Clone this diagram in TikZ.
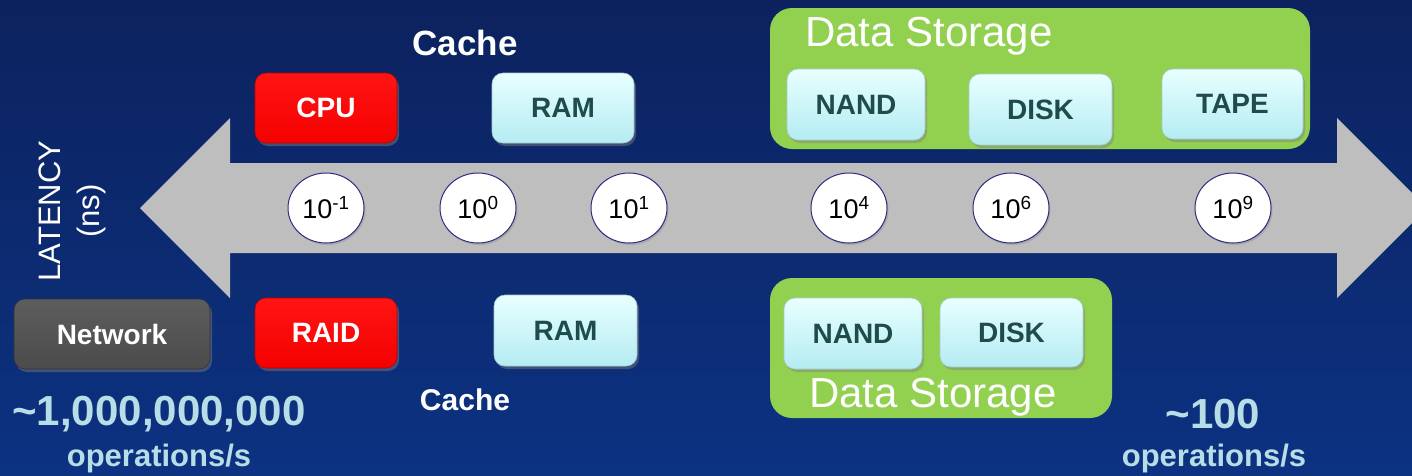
\documentclass[tikz,border=0pt]{standalone}
\usepackage{fontspec}
\setmainfont{Liberation Sans}
\usetikzlibrary{shapes.geometric,shadows}
\definecolor{bgtop}{RGB}{12,34,94}
\definecolor{bgbot}{RGB}{12,50,130}
\definecolor{arrowgray}{RGB}{190,190,190}
\definecolor{stgreen}{RGB}{146,208,80}
\definecolor{cyantop}{RGB}{232,255,255}
\definecolor{cyanbot}{RGB}{180,236,242}
\definecolor{tealtxt}{RGB}{30,75,75}
\definecolor{lighttxt}{RGB}{183,222,230}
\definecolor{ringblue}{RGB}{45,45,130}
\definecolor{netgray}{RGB}{75,75,75}
\tikzset{
  box/.style={rounded corners=11pt, inner sep=0pt, font=\fontsize{28}{30}\selectfont\bfseries,
    drop shadow={opacity=0.45, shadow xshift=2pt, shadow yshift=-3pt}},
  redbox/.style={box, top color=red!92!white, bottom color=red!96!black, draw=red!75!black, line width=0.6pt, text=white},
  cyanbox/.style={box, top color=cyantop, bottom color=cyanbot, draw=cyanbot!70!gray, line width=0.6pt, text=tealtxt},
  graybox/.style={box, top color=netgray!90!white, bottom color=netgray, draw=netgray!70!black, line width=0.6pt, text=white},
  storage/.style={fill=stgreen, rounded corners=22pt},
  storelabel/.style={text=white, font=\fontsize{42}{46}\selectfont},
  cachelabel/.style={text=white, font=\bfseries},
  ring/.style={ellipse, fill=white, draw=ringblue, line width=1pt, minimum width=76pt, minimum height=70pt, inner sep=0pt,
    font=\fontsize{27}{29}\selectfont, drop shadow={opacity=0.35, shadow xshift=1.5pt, shadow yshift=-2pt}},
  bignum/.style={text=lighttxt, font=\fontsize{42}{46}\selectfont\bfseries},
  opslabel/.style={text=lighttxt, font=\fontsize{31}{34}\selectfont\bfseries},
}
\begin{document}
\begin{tikzpicture}[x=1pt,y=-1pt]
\useasboundingbox (0,0) rectangle (1412,475);
\begin{scope}
\clip (0,0) rectangle (1412,475);
\shade[top color=bgtop, bottom color=bgbot] (0,0) rectangle (1412,475);
% latency double arrow
\fill[arrowgray] (140,208) -- (230,118) -- (230,163) -- (1337,163) -- (1337,118) -- (1427,208)
  -- (1337,298) -- (1337,253) -- (230,253) -- (230,298) -- cycle;
\end{scope}

% storage groups
\fill[storage] (770,8) rectangle (1310,149);
\fill[storage] (770,278) rectangle (1112,418);

% top row
\node[cachelabel, font=\fontsize{35}{38}\selectfont\bfseries] (cachetop) at (465,43) {Cache};
\node[storelabel] (dstop) at (929,36) {Data Storage};
\node[redbox, minimum width=142pt, minimum height=70pt] (cpu) at (326,108) {CPU};
\node[cyanbox, minimum width=142pt, minimum height=70pt] (ramtop) at (563,108) {RAM};
\node[cyanbox, minimum width=138pt, minimum height=71pt] (nandtop) at (856,104.5) {NAND};
\node[cyanbox, minimum width=143pt, minimum height=71pt] (disktop) at (1040.5,109.5) {DISK};
\node[cyanbox, minimum width=141pt, minimum height=70pt] (tape) at (1232.5,104) {TAPE};

% scale rings
\node[ring] (e1) at (326,208) {10\textsuperscript{-1}};
\node[ring] (e2) at (478,208) {10\textsuperscript{0}};
\node[ring] (e3) at (629,208) {10\textsuperscript{1}};
\node[ring] (e4) at (849,208) {10\textsuperscript{4}};
\node[ring] (e5) at (1011,208) {10\textsuperscript{6}};
\node[ring] (e6) at (1233,208) {10\textsuperscript{9}};

% axis label
\node[text=white, rotate=90, align=center, font=\fontsize{31}{39}\selectfont] (latency) at (72,211) {LATENCY\\(ns)};

% bottom row
\node[graybox, minimum width=196pt, minimum height=70pt] (network) at (112,334) {Network};
\node[redbox, minimum width=142pt, minimum height=70pt] (raid) at (326,333) {RAID};
\node[cyanbox, minimum width=143pt, minimum height=71pt] (rambot) at (565.5,330.5) {RAM};
\node[cyanbox, minimum width=138pt, minimum height=71pt] (nandbot) at (853,333.5) {NAND};
\node[cyanbox, minimum width=143pt, minimum height=69pt] (diskbot) at (1011.5,332.5) {DISK};
\node[cachelabel, font=\fontsize{30}{33}\selectfont\bfseries] (cachebot) at (465,400) {Cache};
\node[storelabel] (dsbot) at (933,397) {Data Storage};

% throughput labels
\node[bignum] (fast) at (159,414) {\char"7E\relax 1,000,000,000};
\node[opslabel] (fastops) at (159,458) {operations/s};
\node[bignum] (slow) at (1213,414) {\char"7E\relax 100};
\node[opslabel] (slowops) at (1214,458) {operations/s};
\end{tikzpicture}
\end{document}
